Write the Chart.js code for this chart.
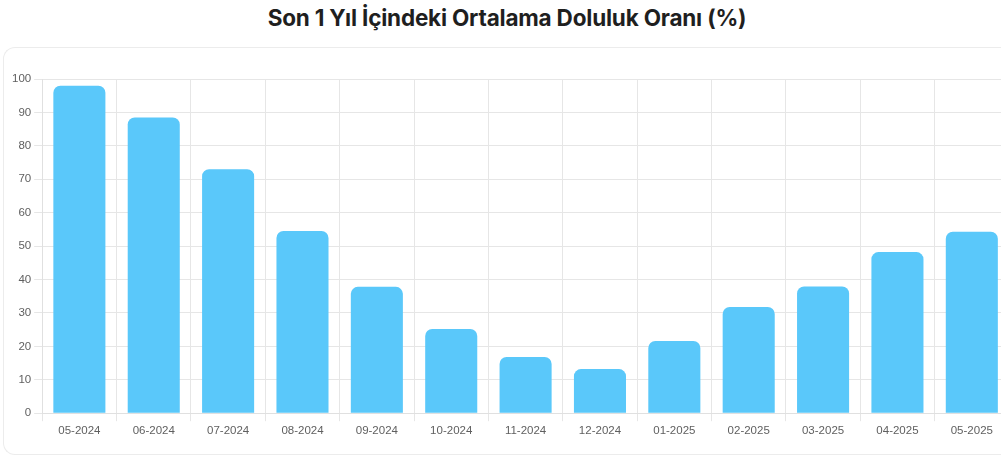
<!DOCTYPE html>
<html lang="tr">
<head>
<meta charset="UTF-8">
<title>Doluluk Oranı</title>
<script src="https://cdn.jsdelivr.net/npm/chart.js"></script>
<style>
  html, body { margin: 0; padding: 0; background: #fff; overflow: hidden; }
  body { width: 1001px; height: 475px; position: relative; }
  #title {
    position: absolute; left: 0; top: 4px; width: 1014px; text-align: center;
    font-family: Inter, "DejaVu Sans", sans-serif; font-weight: 700; font-size: 22.5px;
    color: #1f1f1f; letter-spacing: -0.2px;
  }
  #card {
    position: absolute; left: 3px; top: 47px; width: 1020px; height: 406px;
    border: 1px solid #ececec; border-radius: 12px; border-right: none;
  }
  #wrap { position: absolute; left: 0; top: 50px; width: 1012px; height: 400px; }
</style>
</head>
<body>
<div id="title">Son 1 Yıl İçindeki Ortalama Doluluk Oranı (%)</div>
<div id="card"></div>
<div id="wrap"><canvas id="chart"></canvas></div>
<script>
// months shown on the x axis
const months = ['05-2024', '06-2024', '07-2024', '08-2024', '09-2024', '10-2024',
  '11-2024', '12-2024', '01-2025', '02-2025', '03-2025', '04-2025', '05-2025'];
// average occupancy (%) per month
const occupancy = [98, 88.5, 73, 54.5, 37.8, 25.2, 16.8, 13.2, 21.6, 31.8, 37.9, 48.2, 54.3];

const ctx = document.getElementById('chart').getContext('2d');
new Chart(ctx, {
  type: 'bar',
  data: {
    labels: months,
    datasets: [{
      label: 'Doluluk',
      data: occupancy,
      backgroundColor: '#5ac8fa',
      borderRadius: 7,
      borderSkipped: 'bottom',
      categoryPercentage: 1,
      barPercentage: 0.7
    }]
  },
  options: {
    responsive: true,
    maintainAspectRatio: false,
    animation: false,
    layout: { padding: { left: 9, right: 3, top: 29, bottom: 9 } },
    plugins: { legend: { display: false }, tooltip: { enabled: false } },
    scales: {
      x: {
        grid: { color: '#e6e6e6', tickLength: 8 },
        border: { color: '#e0e0e0' },
        ticks: { color: '#5f5f5f', font: { family: 'Liberation Sans', size: 11.5 }, maxRotation: 0, padding: 3 }
      },
      y: {
        min: 0, max: 100,
        grid: { color: '#e6e6e6', tickLength: 8 },
        border: { color: '#e0e0e0' },
        ticks: { stepSize: 10, color: '#5f5f5f', font: { family: 'Liberation Sans', size: 11.5 }, padding: 3 }
      }
    }
  }
});
</script>
</body>
</html>
